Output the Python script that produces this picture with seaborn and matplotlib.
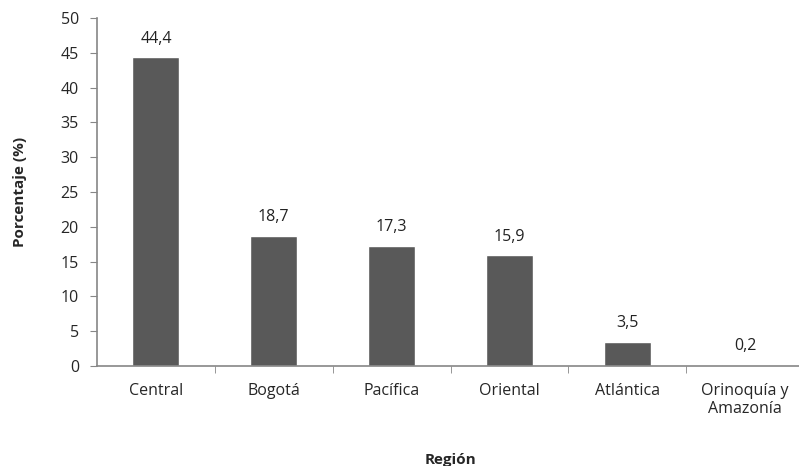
import matplotlib
matplotlib.use("Agg")
import matplotlib.pyplot as plt
import numpy as np
import pandas as pd
import seaborn as sns

# Data
regiones = ["Central", "Bogotá", "Pacífica", "Oriental", "Atlántica", "Orinoquía y\nAmazonía"]
porcentajes = [44.4, 18.7, 17.3, 15.9, 3.5, 0.2]
etiquetas = ["44,4", "18,7", "17,3", "15,9", "3,5", "0,2"]

df = pd.DataFrame({"Región": regiones, "Porcentaje": porcentajes})

sns.set_style("white")
plt.rcParams["font.family"] = ["Open Sans", "DejaVu Sans"]

fig = plt.figure(figsize=(7.99, 4.66), dpi=100)
ax = fig.add_axes([97 / 799, 100 / 466, 707 / 799, 348 / 466])

sns.barplot(data=df, x="Región", y="Porcentaje", color="#595959", width=0.4,
            saturation=1, ax=ax)

for i, (v, lab) in enumerate(zip(porcentajes, etiquetas)):
    ax.text(i, v + 1.5, lab, ha="center", va="bottom", fontsize=11.5, color="#222222")

ax.set_xlim(-0.5, len(regiones) - 0.5)
ax.set_ylim(0, 50)
ax.set_yticks(np.arange(0, 51, 5))
ax.tick_params(axis="y", labelsize=11.5, length=5, color="#868686", direction="out", left=True, pad=8)
ax.set_xticks(np.arange(len(regiones)))
ax.set_xticklabels(regiones, fontsize=11.5)
ax.tick_params(axis="x", length=0, pad=12)
ax.set_xticks(np.arange(0.5, len(regiones) - 0.5), minor=True)
ax.tick_params(axis="x", which="minor", length=5, color="#868686", direction="out", bottom=True)

for s in ["top", "right"]:
    ax.spines[s].set_visible(False)
for s in ["left", "bottom"]:
    ax.spines[s].set_color("#868686")
    ax.spines[s].set_linewidth(1.2)

ax.set_xlabel("Región", fontsize=11, fontweight="bold", labelpad=26)
ax.set_ylabel("Porcentaje (%)", fontsize=11, fontweight="bold", labelpad=24)

fig.savefig("out.png", dpi=100)
